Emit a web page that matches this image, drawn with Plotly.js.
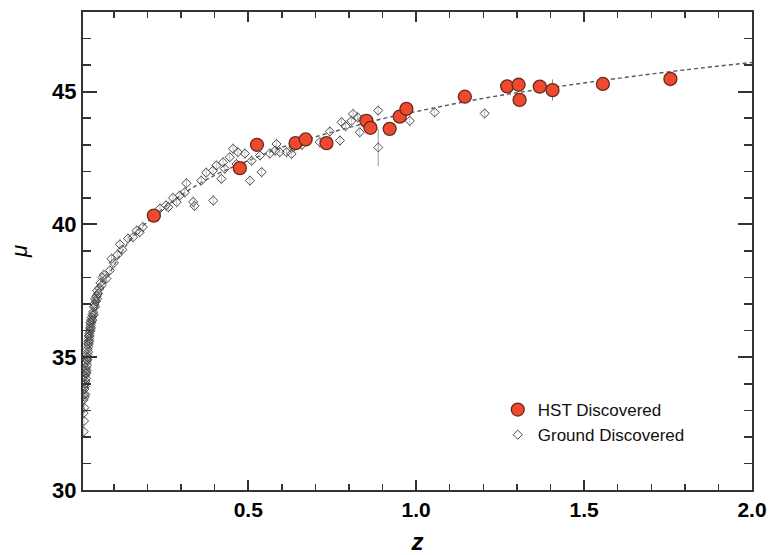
<!DOCTYPE html>
<html>
<head>
<meta charset="utf-8">
<script src="https://cdn.plot.ly/plotly-3.0.1.min.js"></script>
<style>html,body{margin:0;padding:0;background:#fff;}#chart{width:776px;height:555px;}</style>
</head>
<body>
<div id="chart"></div>
<script>
// Model curve
const modelZ  = [0.008, 0.01, 0.015, 0.02, 0.03, 0.05, 0.075, 0.1, 0.15, 0.2, 0.3, 0.4, 0.5, 0.6, 0.7, 0.8, 0.9, 1.0, 1.2, 1.4, 1.6, 1.8, 2.0];
const modelMu = [32.85, 33.3, 34.2, 34.85, 35.75, 36.9, 37.8, 38.45, 39.45, 40.1, 41.1, 41.85, 42.4, 42.9, 43.3, 43.65, 43.98, 44.25, 44.75, 45.15, 45.5, 45.82, 46.1];

// HST discovered SNe
const hstZ   = [0.219, 0.475, 0.526, 0.641, 0.671, 0.733, 0.852, 0.864, 0.921, 0.951, 0.971, 1.145, 1.271, 1.305, 1.308, 1.368, 1.406, 1.556, 1.757];
const hstMu  = [40.33, 42.12, 43.0, 43.06, 43.2, 43.06, 43.9, 43.64, 43.6, 44.06, 44.35, 44.81, 45.2, 45.26, 44.69, 45.19, 45.06, 45.29, 45.48];
const hstErr = [0.2, 0.2, 0.2, 0.2, 0.2, 0.2, 0.25, 0.25, 0.2, 0.25, 0.2, 0.2, 0.2, 0.2, 0.25, 0.2, 0.4, 0.2, 0.3];

// Ground discovered SNe
const groundZ = [
  0.010, 0.010, 0.010, 0.011, 0.011, 0.012, 0.012, 0.013, 0.013, 0.014, 0.014,
  0.015, 0.015, 0.015, 0.016, 0.016, 0.017, 0.017, 0.018, 0.018, 0.019, 0.019,
  0.020, 0.020, 0.021, 0.021, 0.022, 0.022, 0.023, 0.023, 0.024, 0.024, 0.025, 0.025,
  0.026, 0.027, 0.027, 0.028, 0.028, 0.029, 0.030, 0.030, 0.031, 0.032, 0.032, 0.033,
  0.034, 0.036, 0.036, 0.038, 0.040, 0.040, 0.042, 0.044, 0.044, 0.046, 0.048,
  0.050, 0.050, 0.053, 0.056, 0.060, 0.063, 0.066, 0.070, 0.078, 0.088, 0.093,
  0.100, 0.110, 0.118, 0.125, 0.142, 0.157, 0.168, 0.177, 0.186, 0.237, 0.255,
  0.262, 0.276, 0.287, 0.296, 0.311, 0.316, 0.336, 0.340, 0.360, 0.375, 0.395,
  0.396, 0.405, 0.420, 0.425, 0.430, 0.445, 0.455, 0.465, 0.469, 0.490, 0.505,
  0.510, 0.535, 0.540, 0.564, 0.580, 0.584, 0.594, 0.614, 0.629, 0.634, 0.660,
  0.713, 0.743, 0.773, 0.778, 0.790, 0.807, 0.812, 0.826, 0.832, 0.840, 0.887,
  0.981, 1.055, 1.204
];
const groundMu = [
  32.9, 33.4, 32.2, 33.6, 32.6, 33.1, 33.8, 33.5, 34.0, 33.9, 34.3,
  34.1, 33.6, 34.5, 34.4, 34.0, 34.6, 34.2, 34.8, 34.4, 34.9, 34.5,
  35.0, 34.7, 35.1, 34.9, 35.3, 35.0, 35.2, 35.5, 35.4, 35.6, 35.5, 35.8,
  35.7, 35.9, 35.6, 35.8, 36.0, 36.1, 36.0, 36.3, 36.2, 36.4, 36.1, 36.3,
  36.5, 36.6, 36.4, 36.7, 36.9, 36.6, 37.0, 36.9, 37.2, 37.1, 37.3,
  37.2, 37.5, 37.4, 37.6, 37.8, 37.7, 38.0, 38.1, 37.96, 38.27, 38.71,
  38.55, 38.85, 39.25, 39.05, 39.47, 39.52, 39.77, 39.71, 39.9, 40.6, 40.72,
  40.65, 41.0, 40.84, 41.09, 41.21, 41.55, 40.85, 40.7, 41.65, 41.95, 42.03,
  40.9, 42.22, 41.72, 42.34, 42.1, 42.53, 42.85, 42.28, 42.72, 42.67, 41.65,
  42.4, 42.6, 41.97, 42.67, 42.78, 43.03, 42.72, 42.72, 42.66, 42.9, 43.0,
  43.1, 43.5, 43.16, 43.85, 43.7, 43.9, 44.16, 44.03, 43.47, 43.95, 44.29,
  43.9, 44.22, 44.18
];
// One ground point with a large error bar
const wideZ = [0.887];
const wideMu = [42.9];
const wideErr = [0.7];

// Tick labels
const xTickVals = [0.5, 1.0, 1.5, 2.0];
const xTickText = ['0.5', '1.0', '1.5', '2.0'];
const yTickVals = [30, 35, 40, 45];
const yTickText = ['30', '35', '40', '45'];

const traces = [
  {x: modelZ, y: modelMu, type: 'scatter', mode: 'lines', showlegend: false, hoverinfo: 'skip',
   line: {color: '#5a5a5a', width: 1.4, dash: '4px,3px', shape: 'spline'}},
  {x: wideZ, y: wideMu, type: 'scatter', mode: 'markers', showlegend: false,
   marker: {symbol: 'diamond-open', size: 7, color: '#555', line: {width: 1, color: '#555'}},
   error_y: {type: 'data', array: wideErr, visible: true, color: '#9a9a9a', thickness: 1, width: 0}},
  {x: groundZ, y: groundMu, type: 'scatter', mode: 'markers', name: 'Ground Discovered', legendrank: 2,
   marker: {symbol: 'diamond-open', size: 7, color: '#4a4a4a', line: {width: 1, color: '#4a4a4a'}},
   error_y: {type: 'constant', value: 0.22, visible: true, color: '#b0b0b0', thickness: 0.8, width: 0}},
  {x: hstZ, y: hstMu, type: 'scatter', mode: 'markers', name: 'HST Discovered', legendrank: 1,
   marker: {symbol: 'circle', size: 13, color: '#ee4a2e', line: {width: 1.3, color: '#6b2a1c'}},
   error_y: {type: 'data', array: hstErr, visible: true, color: '#888', thickness: 1, width: 0}}
];

const fontFam = 'Liberation Sans';
const axisCommon = {
  showline: true, linecolor: '#333', linewidth: 2, mirror: 'ticks',
  ticks: 'inside', tickcolor: '#333', tickwidth: 2,
  showgrid: false, zeroline: false
};

const layout = {
  width: 776, height: 555,
  margin: {l: 83, r: 24, t: 12, b: 65},
  paper_bgcolor: '#fff', plot_bgcolor: '#fff',
  showlegend: true,
  legend: {x: 0.62, y: 0.205, xanchor: 'left', yanchor: 'top', bgcolor: 'rgba(255,255,255,0)',
           font: {family: fontFam, size: 17, color: '#111'},
           itemsizing: 'trace', tracegroupgap: 4},
  xaxis: Object.assign({}, axisCommon, {
    range: [0.008, 2.0], tickvals: xTickVals, ticktext: xTickText,
    tickfont: {family: fontFam, size: 21, color: '#000', weight: 'bold'},
    ticklen: 10, minor: {tick0: 0, dtick: 0.1, ticklen: 6, ticks: 'inside', tickcolor: '#333', tickwidth: 1.5},
    title: {text: '<i>z</i>', standoff: 14,
            font: {family: fontFam, size: 24, color: '#000', weight: 'bold'}}
  }),
  yaxis: Object.assign({}, axisCommon, {
    range: [30, 48], tickvals: yTickVals, ticktext: yTickText,
    tickfont: {family: fontFam, size: 22, color: '#000', weight: 'bold'},
    ticklen: 14, minor: {tick0: 0, dtick: 1, ticklen: 8, ticks: 'inside', tickcolor: '#333', tickwidth: 1.5},
    title: {text: '<i>μ</i>', standoff: 18,
            font: {family: fontFam, size: 22, color: '#000'}}
  })
};

Plotly.newPlot('chart', traces, layout, {displayModeBar: false, staticPlot: true});
</script>
</body>
</html>
